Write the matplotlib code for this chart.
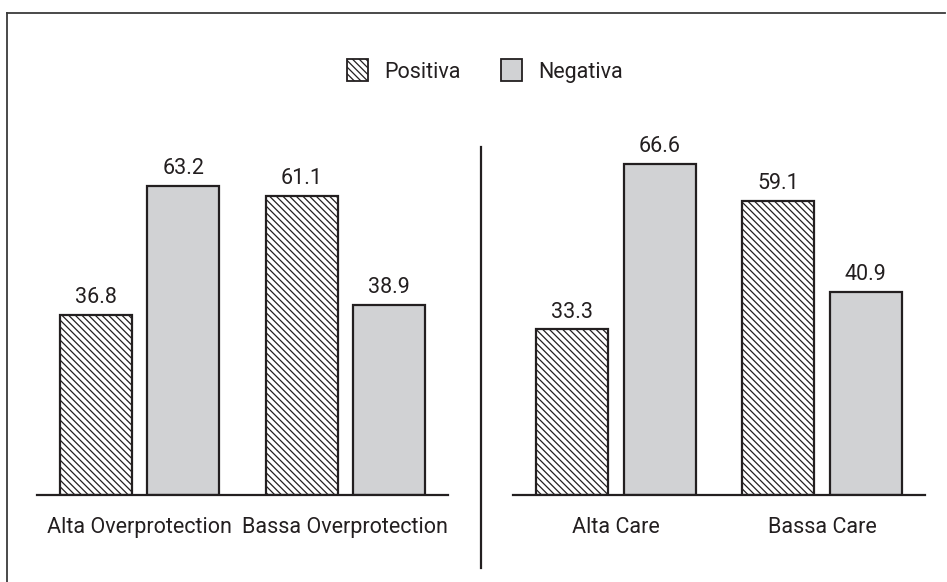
import matplotlib
matplotlib.use("Agg")
import matplotlib.pyplot as plt
from matplotlib.patches import Patch
from matplotlib.lines import Line2D

# ---------------- data ----------------
left_groups = ["Alta Overprotection", "Bassa Overprotection"]
left_pos = [36.8, 61.1]
left_neg = [63.2, 38.9]

right_groups = ["Alta Care", "Bassa Care"]
right_pos = [33.3, 59.1]
right_neg = [66.6, 40.9]

series_names = ["Positiva", "Negativa"]

INK = "#231f20"
GREY = "#d1d2d4"
HATCH = "\\" * 5
FS = 15.5
plt.rcParams["font.family"] = ["Roboto", "DejaVu Sans"]
plt.rcParams["hatch.linewidth"] = 0.9
plt.rcParams["hatch.color"] = INK

W, H = 947, 582
fig = plt.figure(figsize=(W / 100, H / 100), dpi=100)


def px_axes(x0, x1, y_bottom, y_top):
    # axes placed by pixel edges (y measured from the top)
    return fig.add_axes([x0 / W, 1 - y_bottom / H, (x1 - x0) / W, (y_bottom - y_top) / H])


def panel(ax, groups, pos, neg, ytop):
    w = 0.35
    off = 0.2125
    xs = list(range(len(groups)))
    b1 = ax.bar([x - off for x in xs], pos, w, color="white", edgecolor=INK,
                linewidth=1.6, hatch=HATCH)
    b2 = ax.bar([x + off for x in xs], neg, w, color=GREY, edgecolor=INK,
                linewidth=1.6)
    for bars, vals in ((b1, pos), (b2, neg)):
        for r, v in zip(bars, vals):
            ax.annotate(f"{v:.1f}", (r.get_x() + r.get_width() / 2, v),
                        xytext=(0, 5), textcoords="offset points",
                        ha="center", va="bottom", fontsize=FS, color=INK)
    ax.set_xlim(-0.5, 1.5)
    ax.set_ylim(0, ytop)
    ax.set_xticks(xs)
    ax.set_xticklabels(groups, fontsize=FS, color=INK)
    ax.tick_params(axis="x", length=0, pad=16)
    ax.set_yticks([])
    for s in ("top", "right", "left"):
        ax.spines[s].set_visible(False)
    ax.spines["bottom"].set_linewidth(1.6)
    ax.spines["bottom"].set_color(INK)
    ax.patch.set_alpha(0)


ax_l = px_axes(37, 448, 495, 100)
panel(ax_l, left_groups, left_pos, left_neg, 395 / 4.89)

ax_r = px_axes(513, 925, 495, 100)
panel(ax_r, right_groups, right_pos, right_neg, 395 / 4.97)

# outer frame (top and left edges) and the panel divider
fig.add_artist(Line2D([7 / W, 945 / W], [1 - 13 / H, 1 - 13 / H], color="#3a3a3a", lw=1.3))
fig.add_artist(Line2D([7 / W, 7 / W], [1 - 13 / H, 0], color="#3a3a3a", lw=1.3))
fig.add_artist(Line2D([481 / W, 481 / W], [1 - 147 / H, 1 - 568 / H], color=INK, lw=1.6))

handles = [
    Patch(facecolor="white", edgecolor=INK, hatch=HATCH, linewidth=1.3),
    Patch(facecolor=GREY, edgecolor=INK, linewidth=1.3),
]
fig.legend(handles, series_names, loc="center", bbox_to_anchor=(485 / W, 1 - 71 / H),
           ncol=2, frameon=False, fontsize=FS, handlelength=0.95, handleheight=1.2,
           handletextpad=0.75, columnspacing=1.9, labelcolor=INK)

fig.savefig("out.png", dpi=100)
